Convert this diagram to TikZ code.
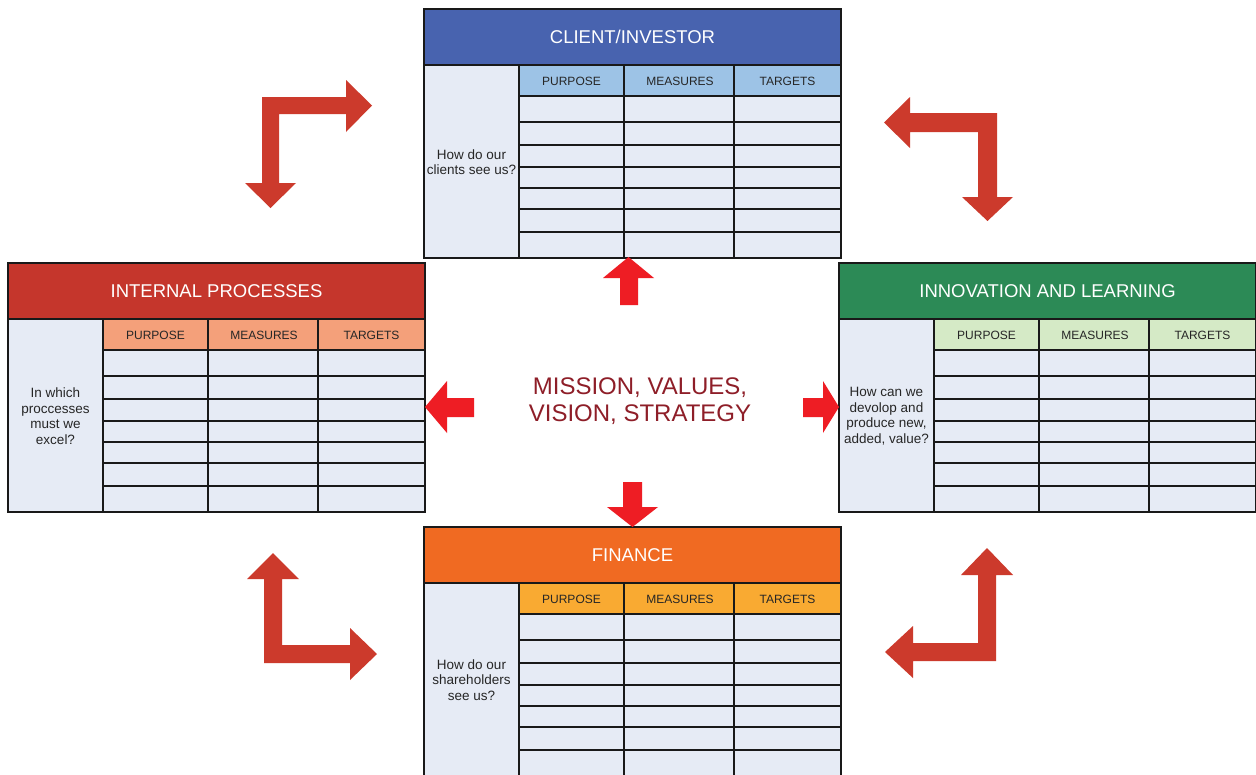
\documentclass[tikz,border=0pt]{standalone}
\usepackage{fontspec}
\setmainfont{Liberation Sans}
\definecolor{cellfill}{HTML}{E6EBF5}
\definecolor{clienthead}{HTML}{4863AF}
\definecolor{clientcol}{HTML}{9DC3E6}
\definecolor{internalhead}{HTML}{C5362C}
\definecolor{internalcol}{HTML}{F4A07A}
\definecolor{innovhead}{HTML}{2C8A56}
\definecolor{innovcol}{HTML}{D5EAC6}
\definecolor{finhead}{HTML}{F06A22}
\definecolor{fincol}{HTML}{F9AA32}
\definecolor{cornerred}{HTML}{CC3A2C}
\definecolor{centerred}{HTML}{EE1D24}
\definecolor{missiontext}{HTML}{8E1E28}
\newcommand\bscpanel[7]{%
  \begin{scope}[shift={(#2,#3)}]
    \fill[cellfill] (0,0) rectangle (417,249);
    \fill[#4] (0,0) rectangle (417,56);
    \fill[#5] (95,56) rectangle (417,87);
    \node[titletext] (#1-title) at (208.5,28) {#6};
    \node[colhead] (#1-p) at (147.5,72) {PURPOSE};
    \node[colhead] (#1-m) at (256,72) {MEASURES};
    \node[colhead] (#1-t) at (363.5,72) {TARGETS};
    \node[sidetext] (#1-q) at (47.5,153) {#7};
    \draw[gridline] (95,56) -- (95,249) (200,56) -- (200,249) (310,56) -- (310,249);
    \foreach \yy in {87,113,136,158,179,200,223} \draw[gridline] (95,\yy) -- (417,\yy);
    \draw[gridline] (0,56) -- (417,56);
    \draw[outline] (0,0) rectangle (417,249);
  \end{scope}}
\begin{document}
\begin{tikzpicture}[x=1pt,y=-1pt,
  gridline/.style={draw=black!90,line width=2.7pt},
  outline/.style={draw=black!90,line width=2.8pt},
  titletext/.style={text=white,inner sep=0pt,font=\fontsize{18.5}{21}\selectfont},
  colhead/.style={text=black!85,inner sep=0pt,font=\fontsize{12}{14}\selectfont},
  sidetext/.style={text=black!85,inner sep=0pt,align=center,font=\fontsize{13.5}{15.5}\selectfont},
  cornerarrow/.style={fill=cornerred},
  centerarrow/.style={fill=centerred}]
\useasboundingbox (0,0) rectangle (1256,774);
\fill[white] (0,0) rectangle (1256,774);

\bscpanel{client}{424}{9}{clienthead}{clientcol}{CLIENT/INVESTOR}{How do our\\clients see us?}
\bscpanel{internal}{8}{263}{internalhead}{internalcol}{INTERNAL PROCESSES}{In which\\proccesses\\must we\\excel?}
\bscpanel{innov}{839}{263}{innovhead}{innovcol}{INNOVATION AND LEARNING}{How can we\\devolop and\\produce new,\\added, value?}
\bscpanel{finance}{424}{527}{finhead}{fincol}{FINANCE}{How do our\\shareholders\\see us?}

\node[text=missiontext,align=center,inner sep=0pt,font=\fontsize{24}{27}\selectfont] (mission) at (640,401) {MISSION, VALUES,\\VISION, STRATEGY};

% centre arrows
\fill[centerarrow] (620,305) -- (620,278) -- (603,278) -- (628.5,257) -- (654,278) -- (638,278) -- (638,305) -- cycle;
\fill[centerarrow] (623,482) -- (642,482) -- (642,507) -- (658,507) -- (632.5,527) -- (607,507) -- (623,507) -- cycle;
\fill[centerarrow] (474,398) -- (447,398) -- (447,381) -- (425,407) -- (447,433) -- (447,417) -- (474,417) -- cycle;
\fill[centerarrow] (803,398) -- (823,398) -- (823,381) -- (839,407) -- (823,433) -- (823,417) -- (803,417) -- cycle;

% corner arrows
\fill[cornerarrow] (262,97) -- (346,97) -- (346,80) -- (372,105.5) -- (346,132) -- (346,114) -- (279,114) -- (279,183) -- (296,183) -- (270.5,208) -- (245,183) -- (262,183) -- cycle;
\fill[cornerarrow] (997,113) -- (910,113) -- (910,97) -- (884,122.5) -- (910,148) -- (910,132) -- (978,132) -- (978,197) -- (962,197) -- (987.5,221) -- (1013,197) -- (997,197) -- cycle;
\fill[cornerarrow] (264,663) -- (264,579) -- (247,579) -- (273,553) -- (299,579) -- (282,579) -- (282,645) -- (350,645) -- (350,628) -- (377,654) -- (350,680) -- (350,663) -- cycle;
\fill[cornerarrow] (996,661) -- (996,575) -- (1013,575) -- (987,548) -- (961,575) -- (978,575) -- (978,643) -- (913,643) -- (913,626) -- (885,652) -- (913,678) -- (913,661) -- cycle;
\end{tikzpicture}
\end{document}
